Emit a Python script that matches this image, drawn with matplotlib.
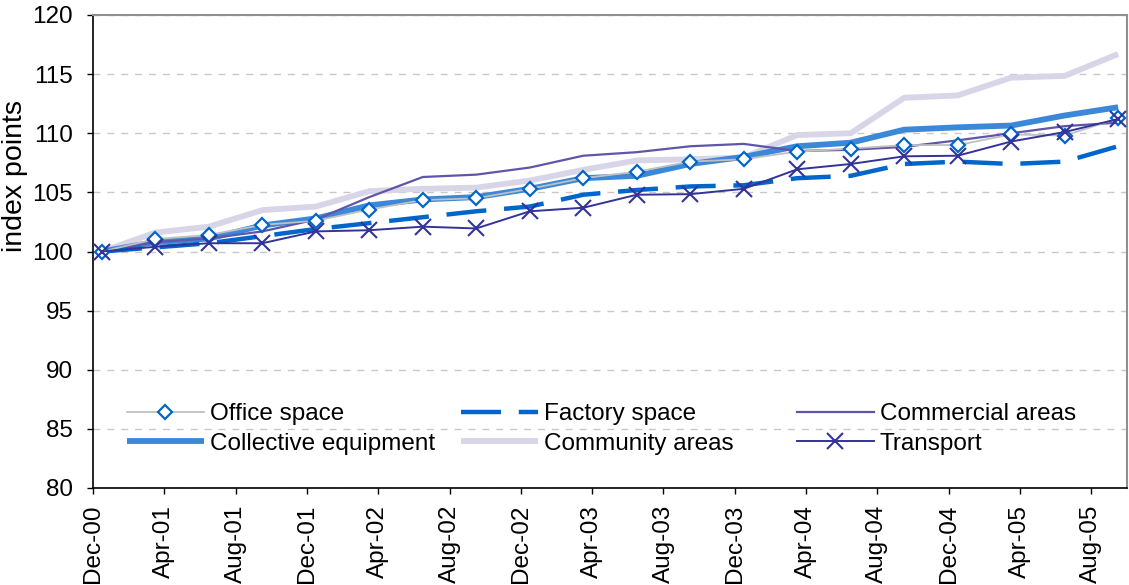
import matplotlib
matplotlib.use("Agg")
import matplotlib.pyplot as plt
import numpy as np

plt.rcParams['font.family'] = ['Liberation Sans', 'DejaVu Sans']

# quarterly index values, Dec-00 = 100 (one point every 3 months)
office = [100, 101.05, 101.4, 102.25, 102.6, 103.55, 104.35, 104.5, 105.3, 106.2,
          106.75, 107.6, 107.8, 108.45, 108.7, 109.0, 109.0, 109.9, 109.8, 111.25]
factory = [100, 100.35, 100.7, 101.3, 101.9, 102.4, 102.9, 103.4, 103.8, 104.8,
           105.2, 105.5, 105.6, 106.2, 106.4, 107.4, 107.6, 107.4, 107.6, 108.9]
commercial = [100, 100.8, 101.1, 101.7, 102.7, 104.6, 106.3, 106.5, 107.1, 108.1,
              108.4, 108.9, 109.1, 108.5, 108.6, 108.85, 109.4, 110.0, 110.6, 110.9]
collective = [100, 100.8, 101.1, 102.2, 102.8, 103.9, 104.4, 104.6, 105.3, 106.2,
              106.4, 107.4, 108.0, 108.9, 109.2, 110.3, 110.5, 110.65, 111.5, 112.2]
community = [100, 101.6, 102.1, 103.5, 103.8, 105.1, 105.3, 105.4, 106.0, 106.9,
             107.7, 107.8, 107.95, 109.85, 110.0, 113.0, 113.2, 114.7, 114.85, 116.7]
transport = [100, 100.4, 100.7, 100.7, 101.7, 101.8, 102.1, 101.95, 103.4, 103.7,
             104.8, 104.85, 105.3, 106.95, 107.4, 108.05, 108.1, 109.3, 110.1, 111.2]

tick_labels = ['Dec-00', 'Apr-01', 'Aug-01', 'Dec-01', 'Apr-02', 'Aug-02', 'Dec-02',
               'Apr-03', 'Aug-03', 'Dec-03', 'Apr-04', 'Aug-04', 'Dec-04', 'Apr-05',
               'Aug-05']

# months since Dec-00, each point centred in its month slot
x = np.arange(len(office)) * 3 + 0.5
ticks = np.arange(len(tick_labels)) * 4

fig = plt.figure(figsize=(11.29, 5.85), dpi=100)
ax = fig.add_axes([93 / 1129, 1 - 488 / 585, 1034 / 1129, 473 / 585])

l_comm, = ax.plot(x, community, color='#d7d5e7', lw=4.2, solid_capstyle='butt',
                  label='Community areas')
l_coll, = ax.plot(x, collective, color='#3c88d8', lw=4.2, solid_capstyle='butt',
                  label='Collective equipment')
l_off, = ax.plot(x, office, color='#c0c0c0', lw=1.3, marker='D', ms=7.5,
                 mfc='white', mec='#0066cc', mew=1.6, label='Office space', zorder=5)
l_com, = ax.plot(x, commercial, color='#5f55aa', lw=1.6, label='Commercial areas')
l_fac, = ax.plot(x, factory, color='#0066cc', lw=3.2, dashes=(9, 4),
                 label='Factory space')
l_tra, = ax.plot(x, transport, color='#333399', lw=1.4, marker='x', ms=11,
                 mew=1.5, label='Transport', zorder=6)

ax.set_xlim(0, 58)
ax.set_ylim(80, 120)
ax.set_yticks(np.arange(80, 121, 5))
ax.set_xticks(ticks)
ax.set_xticklabels(tick_labels, rotation=90, fontsize=17.5)
ax.tick_params(axis='y', labelsize=17.5, direction='out', length=4.5, width=1, pad=10)
ax.tick_params(axis='x', direction='out', length=4.5, width=1, pad=7.5)
ax.set_ylabel('index points', fontsize=20.5)
ax.yaxis.set_label_coords(-0.063, 0.66)

ax.grid(axis='y', color='#c8c8c8', ls=(0, (5, 5)), lw=1)
ax.set_axisbelow(True)
for side in ['top', 'right']:
    ax.spines[side].set_color('#909090')
    ax.spines[side].set_linewidth(1.5)
for side in ['left', 'bottom']:
    ax.spines[side].set_color('black')
    ax.spines[side].set_linewidth(1.2)

# three legend columns placed separately
cols = [(127, [l_off, l_coll]), (461, [l_fac, l_comm]), (797, [l_com, l_tra])]
for i, (px, handles) in enumerate(cols):
    leg = ax.legend(handles=handles, loc='upper left',
                    bbox_to_anchor=(px / 1129, 1 - 403 / 585),
                    bbox_transform=fig.transFigure, frameon=False, fontsize=17.5,
                    handlelength=3.15, handletextpad=0.25, labelspacing=0.31,
                    borderpad=0, borderaxespad=0)
    # the last one stays as the axes legend, the others are kept as artists
    if i < len(cols) - 1:
        ax.add_artist(leg)

fig.savefig('out.png', dpi=100)
